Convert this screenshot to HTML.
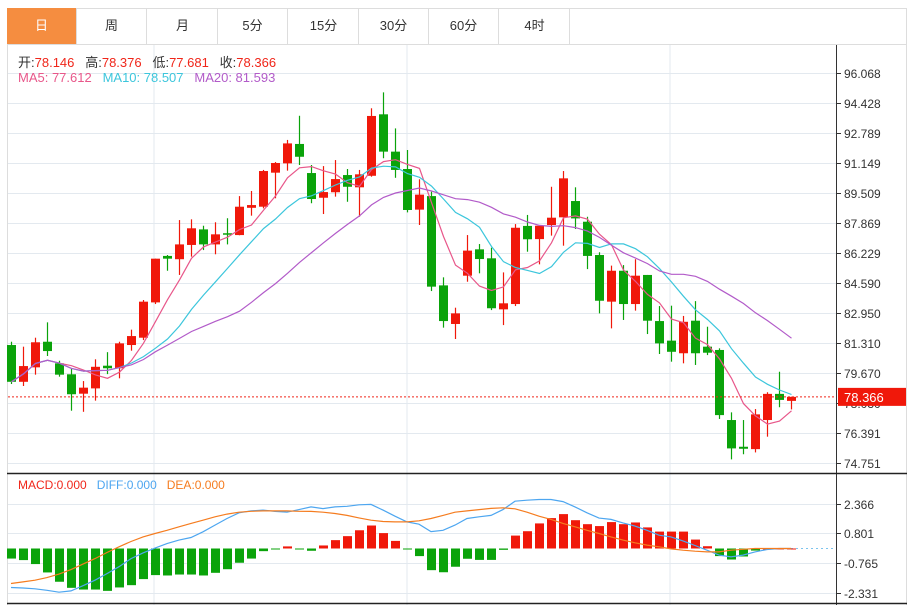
<!DOCTYPE html>
<html><head><meta charset="utf-8">
<style>
body{margin:0;background:#fff;font-family:"Liberation Sans","Noto Sans CJK SC",sans-serif;}
#wrap{position:relative;width:913px;height:605px;overflow:hidden;}
.tab{position:absolute;top:8px;height:36px;line-height:36px;width:70px;text-align:center;font-size:13px;color:#333;border-right:1px solid #ddd;box-sizing:border-box;}
</style></head>
<body>
<div id="wrap">
<div style="position:absolute;left:7px;top:8px;width:900px;height:597px;border:1px solid #ddd;border-bottom:none;box-sizing:border-box"></div>
<div style="position:absolute;left:7px;top:44px;width:900px;height:1px;background:#ddd"></div>
<div class="tab" style="left:7px;background:#f58d40;color:#fff">日</div>
<div class="tab" style="left:77px">周</div>
<div class="tab" style="left:148px">月</div>
<div class="tab" style="left:218px">5分</div>
<div class="tab" style="left:289px">15分</div>
<div class="tab" style="left:359px">30分</div>
<div class="tab" style="left:429px">60分</div>
<div class="tab" style="left:500px">4时</div>
<svg id="svg" width="913" height="605" style="position:absolute;left:0;top:0"></svg>
<div style="position:absolute;left:18px;top:52px;font-size:13px;color:#333;white-space:nowrap">开:<span style="color:#f0261a">78.146</span>&nbsp;&nbsp; 高:<span style="color:#f0261a">78.376</span>&nbsp;&nbsp; 低:<span style="color:#f0261a">77.681</span>&nbsp;&nbsp; 收:<span style="color:#f0261a">78.366</span></div>
<div style="position:absolute;left:18px;top:70px;font-size:13px;white-space:nowrap"><span style="color:#e8578a">MA5: 77.612</span>&nbsp;&nbsp; <span style="color:#3cc6dc">MA10: 78.507</span>&nbsp;&nbsp; <span style="color:#b25bc9">MA20: 81.593</span></div>
<div style="position:absolute;left:18px;top:478px;font-size:12px;white-space:nowrap"><span style="color:#f0261a">MACD:0.000</span>&nbsp;&nbsp; <span style="color:#4da6f0">DIFF:0.000</span>&nbsp;&nbsp; <span style="color:#f57c1f">DEA:0.000</span></div>
</div>
<script>
const opens=[81.20,79.19,79.98,81.38,80.20,79.60,78.54,78.83,80.07,79.93,81.20,81.60,83.53,86.07,85.89,86.67,87.52,86.70,87.31,87.21,88.70,88.76,90.62,91.13,92.19,90.60,89.25,89.55,90.49,89.82,90.45,93.81,91.77,90.82,88.60,89.34,84.46,82.35,84.99,86.43,85.94,83.15,83.44,87.71,86.99,87.76,88.18,89.07,87.94,86.12,83.57,85.26,83.44,85.03,82.51,81.44,80.75,82.53,81.11,80.93,77.10,75.64,75.51,77.10,78.53,78.146];
const highs=[81.38,81.11,81.60,82.44,80.34,79.89,79.23,80.42,80.81,81.38,82.04,83.66,85.92,86.12,88.03,88.07,87.72,87.91,88.13,89.34,89.62,90.77,91.20,92.41,93.73,91.04,90.98,91.31,90.82,90.77,94.14,95.01,93.04,91.86,90.26,89.58,84.90,83.24,87.21,86.72,86.52,85.17,87.81,88.31,87.72,89.85,90.71,89.82,88.21,86.27,85.54,85.57,85.89,85.03,83.33,83.35,82.79,83.60,82.20,81.02,77.52,77.10,77.70,78.62,79.74,78.376];
const lows=[79.07,78.96,79.58,80.60,79.47,77.61,77.55,78.16,79.61,79.38,80.89,81.47,83.44,85.26,85.03,86.03,86.39,86.16,86.70,87.20,88.27,88.67,89.22,90.73,91.04,88.95,88.36,89.31,89.03,88.21,90.40,91.41,90.34,88.45,87.76,84.15,82.15,81.53,84.66,85.12,83.11,82.29,83.33,86.30,85.61,87.18,86.63,87.54,85.35,82.93,82.11,82.57,83.08,81.80,80.71,80.29,80.20,80.11,80.65,77.16,74.95,75.23,75.33,76.19,77.80,77.681];
const closes=[79.19,80.05,81.35,80.87,79.58,78.51,78.87,80.01,79.93,81.29,81.69,83.57,85.92,85.92,86.70,87.58,86.70,87.25,87.25,88.76,88.85,90.71,91.15,92.22,91.49,89.18,89.56,90.27,89.85,90.53,93.72,91.77,90.77,88.58,89.42,84.39,82.51,82.93,86.36,85.90,83.21,83.48,87.61,86.98,87.72,88.16,90.31,88.12,86.07,83.62,85.26,83.44,84.99,82.53,81.29,80.83,82.47,80.75,80.78,77.37,75.55,75.53,77.41,78.53,78.20,78.366];
const priceTicks=[96.068,94.428,92.789,91.149,89.509,87.869,86.229,84.590,82.950,81.310,79.670,78.030,76.391,74.751];
const macdBars=[-0.53,-0.61,-0.82,-1.26,-1.75,-2.07,-2.16,-2.16,-2.23,-2.05,-1.93,-1.61,-1.40,-1.42,-1.37,-1.37,-1.42,-1.28,-1.09,-0.75,-0.53,-0.14,-0.02,0.11,-0.02,-0.12,0.16,0.44,0.65,0.96,1.21,0.81,0.40,-0.05,-0.40,-1.14,-1.25,-0.96,-0.54,-0.60,-0.60,-0.07,0.68,0.91,1.32,1.60,1.81,1.49,1.28,1.18,1.39,1.28,1.37,1.11,0.89,0.89,0.89,0.47,0.12,-0.40,-0.58,-0.42,-0.11,0,0,0];
const diffVals=[-2.05,-2.08,-2.12,-2.20,-2.30,-2.23,-1.96,-1.67,-1.32,-0.96,-0.53,-0.23,0.02,0.26,0.44,0.58,0.88,1.23,1.58,1.88,1.98,2.02,1.95,1.91,2.05,2.19,2.10,2.19,2.22,2.30,2.32,2.02,1.70,1.40,1.28,0.89,0.96,1.23,1.58,1.67,1.74,2.05,2.49,2.54,2.58,2.58,2.47,2.19,1.88,1.60,1.53,1.35,1.18,0.96,0.70,0.61,0.40,0.16,-0.09,-0.35,-0.44,-0.35,-0.18,-0.05,0,0];
const deaVals=[-1.84,-1.76,-1.67,-1.53,-1.35,-1.11,-0.82,-0.53,-0.21,0.09,0.37,0.61,0.79,0.96,1.14,1.32,1.49,1.67,1.81,1.91,1.96,1.98,1.98,1.98,1.96,1.95,1.91,1.84,1.74,1.61,1.49,1.42,1.40,1.40,1.46,1.58,1.74,1.91,1.98,2.05,2.11,2.14,2.09,1.91,1.70,1.53,1.32,1.14,0.96,0.79,0.61,0.44,0.30,0.18,0.09,-0.02,-0.09,-0.14,-0.18,-0.18,-0.09,-0.04,0,0,0,0];
const macdTicks=[2.366,0.801,-0.765,-2.331];

const NS='http://www.w3.org/2000/svg';
const svg=document.getElementById('svg');
const RED='#f0180a',GREEN='#0aa30a';
function mk(t,a,parent){const e=document.createElementNS(NS,t);for(const k in a)e.setAttribute(k,a[k]);(parent||svg).appendChild(e);return e;}
const xOf=i=>11+12*i;
const yP=v=>73+(96.068-v)*(30/1.6397);
const yM=v=>548.5-v*19.0;

// grid main
[154,407,670].forEach(x=>{const l=mk('line',{x1:x,x2:x,y1:45,y2:605,stroke:'#e3e9ef','stroke-width':1});

});
priceTicks.forEach(v=>{const y=Math.round(yP(v))+0.5;
const l=mk('line',{x1:8,x2:836,y1:y,y2:y,stroke:'#e3e9ef','stroke-width':1});


mk('line',{x1:836,x2:841,y1:y,y2:y,stroke:'#333'});
const t=mk('text',{x:844,y:y+4.5,'font-size':12,fill:'#333','font-family':'Liberation Sans, sans-serif'});t.textContent=v.toFixed(3);

});
macdTicks.forEach(v=>{const y=Math.round(yM(v))+0.5;
const l=mk('line',{x1:8,x2:836,y1:y,y2:y,stroke:'#e3e9ef','stroke-width':1});


mk('line',{x1:836,x2:841,y1:y,y2:y,stroke:'#333'});
const t=mk('text',{x:844,y:y+4.5,'font-size':12,fill:'#333','font-family':'Liberation Sans, sans-serif'});t.textContent=v.toFixed(3);

});
// axes
const ax=mk('line',{x1:836.5,x2:836.5,y1:45,y2:605,stroke:'#333'});


const sep=mk('line',{x1:7,x2:907,y1:473.5,y2:473.5,stroke:'#222','stroke-width':1.5});


mk('line',{x1:7,x2:907,y1:603.5,y2:603.5,stroke:'#222','stroke-width':1.5});

// candles
for(let i=0;i<closes.length;i++){
 const up=closes[i]>=opens[i];const c=up?RED:GREEN;const x=xOf(i);
 const w=mk('line',{x1:x+0.5,x2:x+0.5,y1:yP(highs[i]),y2:yP(lows[i]),stroke:c,'stroke-width':1.2});
 
 
 const top=yP(Math.max(opens[i],closes[i])),bot=yP(Math.min(opens[i],closes[i]));
 const r=mk('rect',{x:x-4,y:top,width:9,height:Math.max(1.5,bot-top),fill:c});
 
 
}
// MAs
function ma(n){return closes.map((_,i)=>{const s=Math.max(0,i-n+1);let t=0;for(let j=s;j<=i;j++)t+=closes[j];return t/(i-s+1);});}
[[5,'#e8578a','ma5-line'],[10,'#3cc6dc','ma10-line'],[20,'#b25bc9','ma20-line']].forEach(([n,col,name])=>{
 const v=ma(n);const p=mk('polyline',{points:v.map((y,i)=>xOf(i)+0.5+','+yP(y).toFixed(1)).join(' '),fill:'none',stroke:col,'stroke-width':1.2});
 
 
});
// last price line & label
const last=closes[closes.length-1];const ly=yP(last);
const pl=mk('line',{x1:8,x2:836,y1:ly,y2:ly,stroke:'#f0261a','stroke-dasharray':'2,2','stroke-width':1});


const lb=mk('rect',{x:838,y:ly-9,width:68,height:18,fill:RED});


const lt=mk('text',{x:844,y:ly+5,'font-size':13,fill:'#fff','font-family':'Liberation Sans, sans-serif'});lt.textContent=last.toFixed(3);



// MACD
const zl=mk('line',{x1:xOf(macdBars.length-1),x2:836,y1:yM(0),y2:yM(0),stroke:'#7cc4ee','stroke-dasharray':'2,3'});


macdBars.forEach((v,i)=>{const x=xOf(i);const y0=yM(0),y1=yM(v);
 const r=mk('rect',{x:x-4,y:Math.min(y0,y1),width:9,height:Math.max(1,Math.abs(y1-y0)),fill:v>=0?RED:GREEN});
 
 });
const dp=mk('polyline',{points:diffVals.map((v,i)=>xOf(i)+','+yM(v).toFixed(1)).join(' '),fill:'none',stroke:'#4da6f0','stroke-width':1.2});


const ep=mk('polyline',{points:deaVals.map((v,i)=>xOf(i)+','+yM(v).toFixed(1)).join(' '),fill:'none',stroke:'#f57c1f','stroke-width':1.2});


</script>
</body></html>
